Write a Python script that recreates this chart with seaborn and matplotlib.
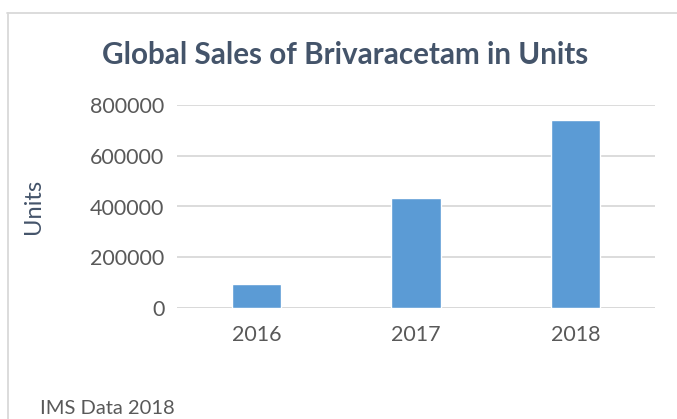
import numpy as np
import pandas as pd
import matplotlib.pyplot as plt
import seaborn as sns
from matplotlib.lines import Line2D

years = ['2016', '2017', '2018']
units = [94000, 434000, 740000]

sales = pd.DataFrame({'Year': years, 'Units': units})

sns.set_style('white')
plt.rcParams['font.family'] = ['Lato', 'DejaVu Sans']

fig = plt.figure(figsize=(6.77, 4.19), dpi=100)
ax = fig.add_axes([177/677, 1-308/419, (655-177)/677, (308-105)/419])

sns.barplot(data=sales, x='Year', y='Units', color='#5B9BD5', width=0.31,
            saturation=1, ax=ax)

ax.set_ylim(0, 800000)
ax.set_yticks([0, 200000, 400000, 600000, 800000])
ax.set_yticklabels(['0', '200000', '400000', '600000', '800000'])
ax.yaxis.grid(True, color='#D9D9D9', linewidth=1.3)
ax.set_axisbelow(True)
for s in ax.spines.values():
    s.set_visible(False)
ax.axhline(0, color='#D9D9D9', linewidth=1.3, zorder=0)
ax.tick_params(axis='both', length=0, labelsize=15.5, labelcolor='#595959')
ax.tick_params(axis='x', pad=12)
ax.tick_params(axis='y', pad=9)
ax.set_xlabel('')
ax.set_ylabel('Units', fontsize=17, color='#44546A')
ax.yaxis.set_label_coords(-133/478, 0.5)

fig.text(345/677, 1-55/419, 'Global Sales of Brivaracetam in Units', ha='center',
         va='center', fontsize=21.3, fontweight='bold', color='#44546A')
fig.text(40/677, 1-408/419, 'IMS Data 2018', ha='left', va='center',
         fontsize=14.5, color='#595959')

# chart frame
fig.add_artist(Line2D([7/677, 1], [1-13/419, 1-13/419], color='#D9D9D9',
                      linewidth=1.3, transform=fig.transFigure))
fig.add_artist(Line2D([8/677, 8/677], [1-13/419, 0], color='#D9D9D9',
                      linewidth=1.3, transform=fig.transFigure))

fig.savefig('out.png', dpi=100)
